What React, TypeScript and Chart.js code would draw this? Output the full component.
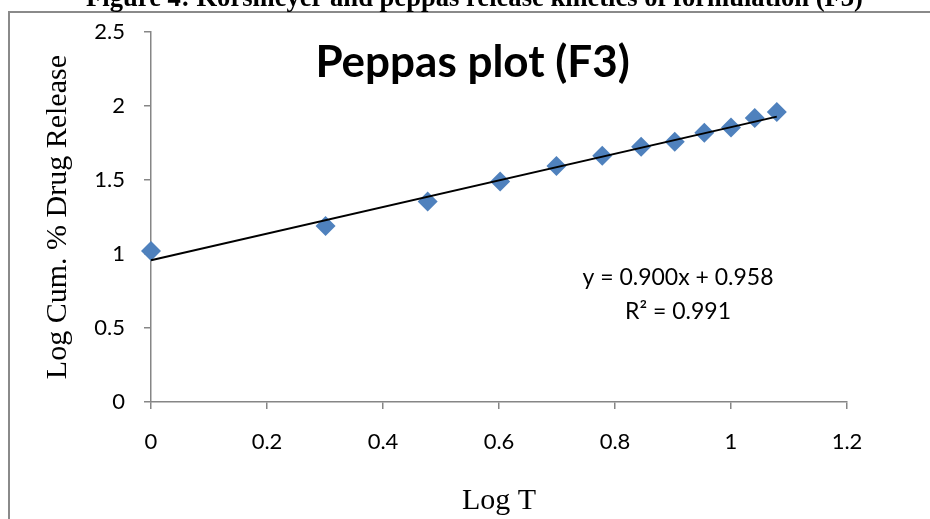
import React, { useEffect, useRef } from "react";
import { Chart, registerables } from "chart.js";

Chart.register(...registerables);

const logTime: number[] = [0, 0.301, 0.477, 0.602, 0.699, 0.778, 0.845, 0.903, 0.954, 1.0, 1.041, 1.079];
const logCumRelease: number[] = [1.02, 1.19, 1.355, 1.49, 1.595, 1.665, 1.725, 1.76, 1.82, 1.855, 1.92, 1.96];
const trendSlope = 0.9;
const trendIntercept = 0.958;
const equationLines: string[] = ["y = 0.900x + 0.958", "R² = 0.991"];
const chartTitle = "Peppas plot (F3)";
const figureCaption = "Figure 4: Korsmeyer and peppas release kinetics of formulation (F3)";
const xAxisTitle = "Log T";
const yAxisTitle = "Log Cum. % Drug Release";

const AXIS_GRAY = "#868686";
const MARKER_BLUE = "#4F81BD";

const annotations = {
  id: "annotations",
  afterDraw(chart: any) {
    const { ctx } = chart;
    const xs = chart.scales.x;
    const ys = chart.scales.y;
    ctx.save();
    // outer frame
    ctx.strokeStyle = "#8a8a8a";
    ctx.lineWidth = 2;
    ctx.strokeRect(9, 12, 960, 560);
    // figure caption (clipped at top)
    ctx.fillStyle = "#000";
    ctx.textAlign = "center";
    ctx.textBaseline = "alphabetic";
    ctx.font = "bold 24px 'Liberation Serif'";
    const w = ctx.measureText(figureCaption).width;
    const size = (24 * 777) / w;
    ctx.font = `bold ${size}px 'Liberation Serif'`;
    ctx.fillText(figureCaption, 474.5, 6);
    // chart title
    ctx.font = "bold 44px Lato";
    ctx.fillText(chartTitle, xs.getPixelForValue(0.5545), ys.getPixelForValue(2.198));
    // equation
    ctx.font = "23px Lato";
    ctx.textBaseline = "middle";
    ctx.fillText(equationLines[0], xs.getPixelForValue(0.9086), ys.getPixelForValue(0.838));
    ctx.fillText(equationLines[1], xs.getPixelForValue(0.9086), ys.getPixelForValue(0.612));
    ctx.restore();
  },
};

export default function App() {
  const ref = useRef<HTMLCanvasElement | null>(null);
  useEffect(() => {
    if (!ref.current) return;
    const xMin = Math.min(...logTime);
    const xMax = Math.max(...logTime);
    const chart = new Chart(ref.current, {
      type: "scatter",
      data: {
        datasets: [
          {
            type: "line",
            label: "Trend",
            data: [
              { x: xMin, y: trendIntercept + trendSlope * xMin },
              { x: xMax, y: trendIntercept + trendSlope * xMax },
            ],
            borderColor: "#000",
            borderWidth: 2,
            pointRadius: 0,
            fill: false,
            clip: false,
          } as any,
          {
            label: "F3",
            data: logTime.map((x, i) => ({ x, y: logCumRelease[i] })),
            pointStyle: "rectRot",
            pointRadius: 10,
            backgroundColor: MARKER_BLUE,
            borderWidth: 0,
            showLine: false,
            clip: false,
          } as any,
        ],
      },
      options: {
        animation: false,
        responsive: false,
        layout: { padding: { left: 0, top: 32, right: 83, bottom: 0 } },
        plugins: { legend: { display: false }, tooltip: { enabled: false } },
        scales: {
          x: {
            type: "linear",
            min: 0,
            max: 1.2,
            ticks: {
              stepSize: 0.2,
              padding: 20,
              color: "#000",
              font: { family: "Lato", size: 22 },
              callback: (v: any) => String(Math.round(Number(v) * 10) / 10),
            },
            grid: { drawOnChartArea: false, drawTicks: true, tickLength: 7, color: AXIS_GRAY, lineWidth: 1.5 },
            border: { color: AXIS_GRAY, width: 1.5 },
            title: {
              display: true,
              text: xAxisTitle,
              color: "#000",
              font: { family: "Liberation Serif", size: 30, lineHeight: 1 },
              padding: { top: 0, bottom: 3 },
            },
            afterFit: (s: any) => {
              s.height = 117;
            },
          },
          y: {
            type: "linear",
            min: 0,
            max: 2.5,
            ticks: {
              stepSize: 0.5,
              padding: 19,
              color: "#000",
              font: { family: "Lato", size: 22 },
              callback: (v: any) => String(Math.round(Number(v) * 10) / 10),
            },
            grid: { drawOnChartArea: false, drawTicks: true, tickLength: 7, color: AXIS_GRAY, lineWidth: 1.5 },
            border: { color: AXIS_GRAY, width: 1.5 },
            title: {
              display: true,
              text: yAxisTitle,
              color: "#000",
              font: { family: "Liberation Serif", size: 30, lineHeight: 1 },
              padding: { top: 43, bottom: 0 },
            },
            afterFit: (s: any) => {
              s.width = 151;
            },
          },
        },
      },
      plugins: [annotations],
    });
    return () => chart.destroy();
  }, []);
  return (
    <div style={{ position: "fixed", left: 0, top: 0, width: 930, height: 519, background: "#fff" }}>
      <canvas ref={ref} width={930} height={519} style={{ display: "block" }} />
    </div>
  );
}
